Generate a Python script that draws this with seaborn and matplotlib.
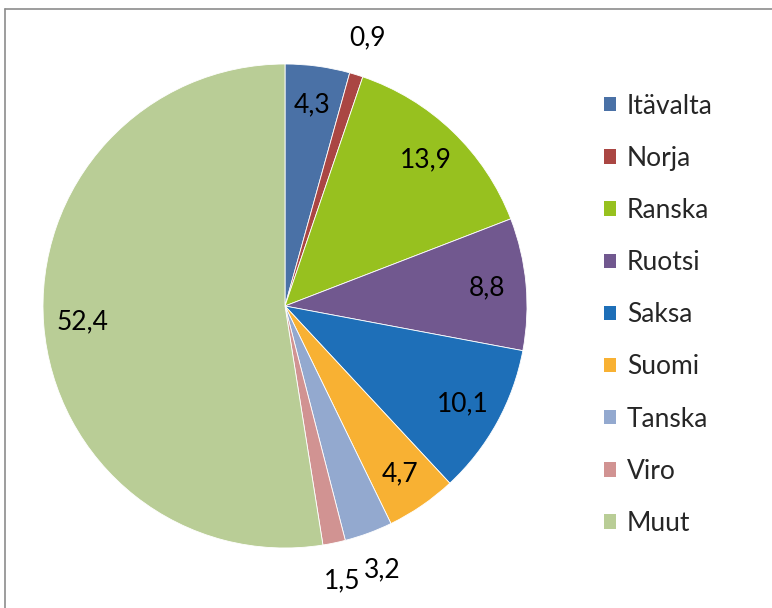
import numpy as np
import matplotlib
matplotlib.use('Agg')
import matplotlib.pyplot as plt
import seaborn as sns
from matplotlib.patches import Patch
from matplotlib.lines import Line2D

# Data
countries = ['Itävalta', 'Norja', 'Ranska', 'Ruotsi', 'Saksa',
             'Suomi', 'Tanska', 'Viro', 'Muut']
shares = [4.3, 0.9, 13.9, 8.8, 10.1, 4.7, 3.2, 1.5, 52.4]
colors = ['#4A71A6', '#AA4643', '#97C11F', '#71588F', '#1E6FB8',
          '#F8B133', '#93A9CF', '#D19392', '#B9CD96']
outside = ['Norja', 'Tanska', 'Viro']

sns.set_theme(style='white')
plt.rcParams['font.family'] = ['Lato', 'DejaVu Sans']

fig = plt.figure(figsize=(7.72, 6.08), dpi=100)
ax = fig.add_axes([43 / 772, 60 / 608, 484 / 772, 484 / 608])

wedges, _ = ax.pie(shares, colors=colors, startangle=90, counterclock=False,
                   wedgeprops=dict(edgecolor='white', linewidth=0.6))
ax.set_xlim(-1, 1)
ax.set_ylim(-1, 1)
ax.set_aspect('equal')
ax.axis('off')

# value labels, comma as decimal separator
for w, name, v in zip(wedges, countries, shares):
    ang = np.deg2rad((w.theta1 + w.theta2) / 2)
    r = 1.16 if name in outside else 0.84
    txt = ('%.1f' % v).replace('.', ',')
    ax.text(r * np.cos(ang), r * np.sin(ang), txt, ha='center', va='center',
            fontsize=19, color='black')

handles = [Patch(facecolor=c, edgecolor='none') for c in colors]
fig.legend(handles, countries, loc='upper left', bbox_to_anchor=(593 / 772, 1 - 83 / 608),
           frameon=False, fontsize=19, labelspacing=1.03, handlelength=0.46,
           handleheight=0.46, handletextpad=0.42, borderaxespad=0)

# chart area border (left and top only visible)
fig.add_artist(Line2D([5 / 772, 5 / 772], [0, 1 - 9 / 608], color='#8C8C8C', lw=1.2))
fig.add_artist(Line2D([5 / 772, 1], [1 - 9 / 608, 1 - 9 / 608], color='#8C8C8C', lw=1.2))

fig.savefig('out.png', dpi=100)
